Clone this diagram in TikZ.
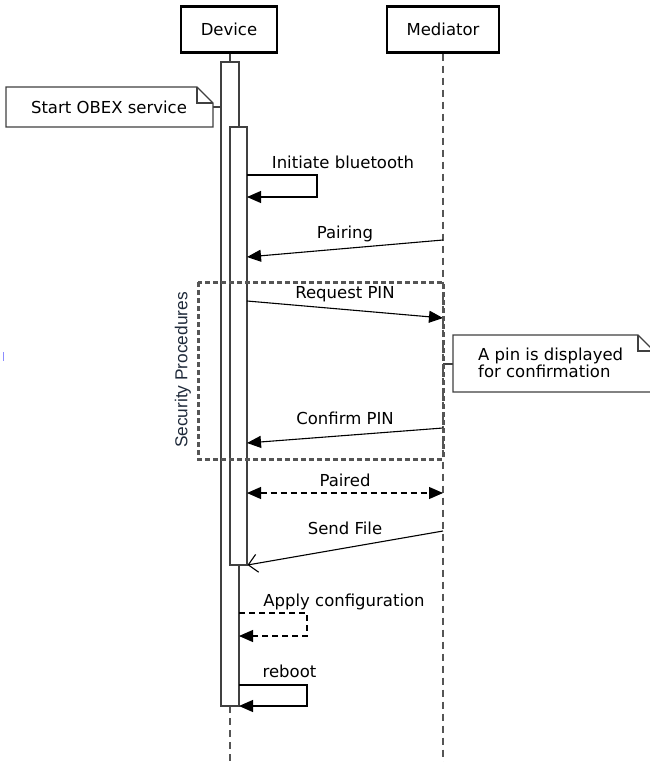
\documentclass[tikz,border=0pt]{standalone}
\usepackage{fontspec}
\setmainfont{DejaVu Sans}
\newfontfamily\secfont{Liberation Sans}
\usetikzlibrary{arrows.meta}
\definecolor{linegray}{HTML}{404040}
\definecolor{lifegray}{HTML}{555555}
\definecolor{secblue}{HTML}{1F2A3A}
\tikzset{
  x=1pt, y=-1pt,
  every node/.style={font=\fontsize{16.5}{18}\selectfont, inner sep=0pt},
  actorbox/.style={draw=black, line width=2.2pt, fill=white, minimum height=46pt},
  barbox/.style={draw=linegray, line width=1.3pt, fill=white, minimum width=17pt},
  msg/.style={draw=black, line width=1.1pt, -{Triangle[length=14pt,width=12pt]}},
  openmsg/.style={draw=black, line width=1.1pt, -{Straight Barb[length=9pt,width=18pt,line width=1.1pt]}},
  lifeline/.style={draw=lifegray, line width=1.6pt, dash pattern=on 7pt off 5pt},
  notebox/.style={draw=linegray, line width=1.3pt, fill=white},
  lbl/.style={anchor=base},
}
\begin{document}
\begin{tikzpicture}
\useasboundingbox (0,0) rectangle (649,762);
% actors
\node[actorbox, minimum width=96pt] (dev) at (229,29.5) {Device};
\node[actorbox, minimum width=112pt] (med) at (443,29.5) {Mediator};
% lifeline coordinates
\coordinate (devbot) at (230,762);
\coordinate (medbot) at (443,762);
\coordinate (bar1top) at (230,62);
\coordinate (bar1bot) at (230,706);
\draw[line width=1.3pt, linegray] (dev.south -| bar1top) -- (bar1top);
\draw[lifeline] (bar1bot) -- (devbot);
\draw[lifeline] (med.south) -- (medbot);
% activation bars
\node[barbox, minimum width=18pt, minimum height=644pt] (bar1) at (230,384) {};
\node[barbox, minimum width=17pt, minimum height=438pt] (bar2) at (238.5,346) {};
% note: Start OBEX service
\draw[notebox] (6,87) -- (197,87) -- (213,103) -- (213,127) -- (6,127) -- cycle;
\draw[linegray, line width=1.3pt] (197,87) -- (197,103) -- (213,103);
\node (obex) at (109,107) {Start OBEX service};
\coordinate (obexR) at (213,107);
\draw[linegray, line width=1.3pt] (obexR) -- (obexR -| bar1.west);
% Initiate bluetooth
\coordinate (ib1) at (247,175);
\coordinate (ib2) at (317,175);
\coordinate (ib3) at (317,197);
\coordinate (ib4) at (247,197);
\draw[msg] (ib1) -- (ib2) -- (ib3) -- (ib4);
\node[lbl] (tib) at (343,168.5) {Initiate bluetooth};
% Pairing
\coordinate (pa1) at (443,240);
\coordinate (pa2) at (247,257);
\draw[msg] (pa1) -- (pa2);
\node[lbl] (tpa) at (345,238.5) {Pairing};
% Request PIN
\coordinate (rq1) at (247,301);
\coordinate (rq2) at (443,318);
\draw[msg] (rq1) -- (rq2);
\node[lbl] (trq) at (345,298.5) {Request PIN};
% note right
\draw[notebox] (453,335) -- (638,335) -- (654,351) -- (654,392) -- (453,392) -- cycle;
\draw[linegray, line width=1.3pt] (638,335) -- (638,351) -- (654,351);
\node[anchor=west, align=left, font=\fontsize{16.5}{16.5}\selectfont] (pin) at (478,363) {A pin is displayed\\for confirmation};
\coordinate (pinL) at (453,364);
\coordinate (pinM) at (443,364);
\draw[linegray, line width=1.3pt] (pinM) -- (pinL);
% Confirm PIN
\coordinate (cf1) at (443,428);
\coordinate (cf2) at (247,443);
\draw[msg] (cf1) -- (cf2);
\node[lbl] (tcf) at (345,424.5) {Confirm PIN};
% Security Procedures box
\draw[lifegray, line width=3pt, dash pattern=on 5pt off 3pt] (198,282) rectangle (443,459);
\node[rotate=90, font=\secfont\fontsize{17.3}{19}\selectfont, text=secblue] (sec) at (183,370) {Security Procedures};
% Paired
\coordinate (pd1) at (247,493);
\coordinate (pd2) at (443,493);
\draw[black, line width=1.1pt, dash pattern=on 6pt off 4pt, {Triangle[length=14pt,width=12pt]}-{Triangle[length=14pt,width=12pt]}] (pd1) -- (pd2);
\node[lbl] (tpd) at (345,486.5) {Paired};
% Send File
\coordinate (sf1) at (443,531);
\coordinate (sf2) at (247.5,565);
\draw[openmsg] (sf1) -- (sf2);
\node[lbl] (tsf) at (345,534.5) {Send File};
% Apply configuration
\coordinate (ap1) at (239,613);
\coordinate (ap2) at (307,613);
\coordinate (ap3) at (307,636);
\coordinate (ap4) at (239,636);
\draw[msg, dash pattern=on 6pt off 4pt] (ap1) -- (ap2) -- (ap3) -- (ap4);
\node[lbl] (tap) at (344,606.5) {Apply configuration};
% reboot
\coordinate (rb1) at (239,685);
\coordinate (rb2) at (307,685);
\coordinate (rb3) at (307,706);
\coordinate (rb4) at (239,706);
\draw[msg] (rb1) -- (rb2) -- (rb3) -- (rb4);
\node[lbl] (trb) at (289.5,677.5) {reboot};
% small tick
\draw[blue!45, line width=0.8pt] (3,352) -- (3,361);
\end{tikzpicture}
\end{document}
